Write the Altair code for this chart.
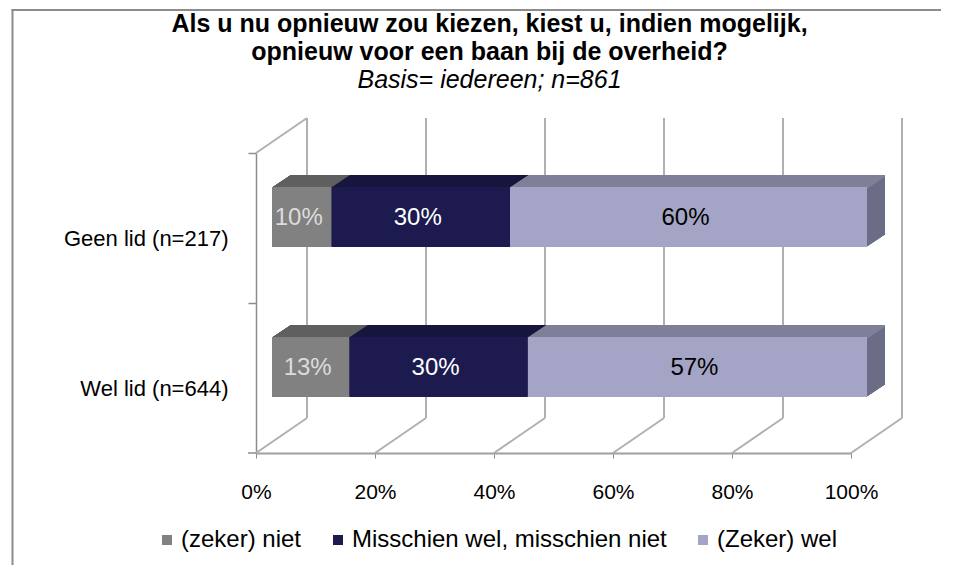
import altair as alt
import pandas as pd

# ---------------- data ----------------
groups = ["Geen lid (n=217)", "Wel lid (n=644)"]
answers = ["(zeker) niet", "Misschien wel, misschien niet", "(Zeker) wel"]
geen_lid = [10, 30, 60]
wel_lid = [13, 30, 57]
x_ticks = [0, 0.2, 0.4, 0.6, 0.8, 1.0]

front_colors = ["#818181", "#1c1a4f", "#a4a5c6"]
top_colors = ["#5f5f5f", "#17163e", "#7f8099"]
side_colors = ["#5f5f5f", "#17163e", "#6b6c86"]
label_colors = ["#dcdcdc", "#ffffff", "#000000"]

FONT = "Liberation Sans"
W, H = 595, 335          # plot area (front axis 0..100%)
DX, DY = 51, -35         # depth of the 3-D walls
BAR_DX, BAR_DY = 16, -11  # bar front face offset
BAR_DEPTH_X, BAR_DEPTH_Y = 18, -12
BAR_SIZE = 60
STEPS = 18
GRID = "#b0b0b0"
AXIS = "#8c8c8c"

rows = []
for g, vals in zip(groups, [geen_lid, wel_lid]):
    cum = 0
    for i, (a, v) in enumerate(zip(answers, vals)):
        rows.append({
            "group": g, "answer": a, "order": i,
            "start": cum / 100, "end": (cum + v) / 100, "mid": (cum + v / 2) / 100,
            "label": f"{v}%", "side": side_colors[i], "top": top_colors[i],
            "lab": label_colors[i],
        })
        cum += v
bars = pd.DataFrame(rows)
ticks = pd.DataFrame({"tick": x_ticks})
one = pd.DataFrame({"k": [0]})

xs = alt.Scale(domain=[0, 1], nice=False, zero=True)
ys = alt.Scale(domain=groups, range=[35, H], paddingInner=0, paddingOuter=0)

x_axis = alt.Axis(
    values=x_ticks, format="%", title=None, grid=False, tickSize=5, tickColor=AXIS,
    domainColor="#a0a0a0", domainWidth=2, labelPadding=23, labelFontSize=21,
    labelFont=FONT, labelColor="black", labelFlush=False)
y_axis = alt.Axis(
    title=None, bandPosition=0, tickSize=8, tickColor=AXIS, tickWidth=1.5,
    domainColor=AXIS, domainWidth=1.5, labelOffset=11, labelPadding=20,
    labelFontSize=22, labelFont=FONT, labelColor="black", labelLimit=300,
    labelBaseline="middle", grid=False)


def X(f):
    return alt.X(f, type="quantitative", scale=xs, axis=x_axis)


def Y():
    return alt.Y("group:N", scale=ys, sort=groups, axis=y_axis)


layers = []

# outer chart border (only its top and left edge fall inside the picture)
layers.append(alt.Chart(one).mark_rect(color=AXIS).encode(
    x=alt.value(11.5 - 256), x2=alt.value(690), y=alt.value(9 - 118), y2=alt.value(11 - 118)))
layers.append(alt.Chart(one).mark_rect(color=AXIS).encode(
    x=alt.value(11.5 - 256), x2=alt.value(13.5 - 256), y=alt.value(9 - 118), y2=alt.value(460)))

# back wall gridlines
layers.append(alt.Chart(ticks).mark_rule(xOffset=DX, color=GRID, strokeWidth=2).encode(
    x=X("tick"), y=alt.value(0), y2=alt.value(H + DY)))
# floor diagonals
layers.append(alt.Chart(ticks).mark_rule(x2Offset=DX, color=GRID, strokeWidth=2).encode(
    x=X("tick"), x2=alt.X2("tick"), y=alt.value(H), y2=alt.value(H + DY)))
# left wall top edge
layers.append(alt.Chart(one).mark_rule(color=GRID, strokeWidth=2).encode(
    x=alt.value(0), x2=alt.value(DX), y=alt.value(35), y2=alt.value(35 + DY)))
# bottom tick of the category axis
layers.append(alt.Chart(one).mark_rule(color=AXIS, strokeWidth=1.5).encode(
    x=alt.value(-8), x2=alt.value(0), y=alt.value(H)))

# extruded depth of bars (side colour)
for k in range(STEPS, 0, -1):
    ox = BAR_DX + k * BAR_DEPTH_X / STEPS
    oy = BAR_DY + k * BAR_DEPTH_Y / STEPS
    layers.append(alt.Chart(bars).mark_bar(size=BAR_SIZE, xOffset=ox, x2Offset=ox,
                                           yOffset=oy).encode(
        x=X("start"), x2=alt.X2("end"), y=Y(), color=alt.Color("side:N", scale=None)))
# top faces
for k in range(STEPS, 0, -1):
    ox = BAR_DX + k * BAR_DEPTH_X / STEPS
    oy = BAR_DY + k * BAR_DEPTH_Y / STEPS - BAR_SIZE / 2 + 1
    layers.append(alt.Chart(bars).mark_bar(size=2, xOffset=ox, x2Offset=ox,
                                           yOffset=oy).encode(
        x=X("start"), x2=alt.X2("end"), y=Y(), color=alt.Color("top:N", scale=None)))

# front faces with legend
front = alt.Chart(bars).mark_bar(size=BAR_SIZE, xOffset=BAR_DX, x2Offset=BAR_DX,
                                 yOffset=BAR_DY).encode(
    x=X("start"),
    x2=alt.X2("end"),
    y=Y(),
    color=alt.Color("answer:N", scale=alt.Scale(domain=answers, range=front_colors),
                    sort=answers,
                    legend=alt.Legend(title=None, orient="none", legendX=-101, legendY=410,
                                      direction="horizontal", symbolType="square",
                                      symbolSize=100, symbolStrokeWidth=0,
                                      labelFontSize=24, labelFont=FONT, labelColor="black",
                                      labelLimit=400, columnPadding=24, labelOffset=2)),
)
layers.append(front)

labels = alt.Chart(bars).mark_text(xOffset=13, yOffset=BAR_DY + 1, fontSize=24, font=FONT,
                                   baseline="middle").encode(
    x=X("mid"), y=Y(), text="label:N", color=alt.Color("lab:N", scale=None))
layers.append(labels)

chart = alt.layer(*layers).properties(
    width=W, height=H,
    title=alt.Title(
        text=["Als u nu opnieuw zou kiezen, kiest u, indien mogelijk,",
              "opnieuw voor een baan bij de overheid?"],
        subtitle="Basis= iedereen; n=861",
        font=FONT, fontSize=25, fontWeight="bold", color="black", lineHeight=28,
        subtitleFont=FONT, subtitleFontSize=25, subtitleFontStyle="italic",
        subtitleColor="black", subtitlePadding=3,
        anchor="middle", frame="group", dx=-64, offset=-84),
    padding={"left": 248, "top": 110, "right": 90, "bottom": 112},
    autosize=alt.AutoSizeParams(type="none"),
).resolve_scale(color="independent").configure_view(strokeOpacity=0)

chart.save("out.html", embed_options={"renderer": "svg", "actions": False})
